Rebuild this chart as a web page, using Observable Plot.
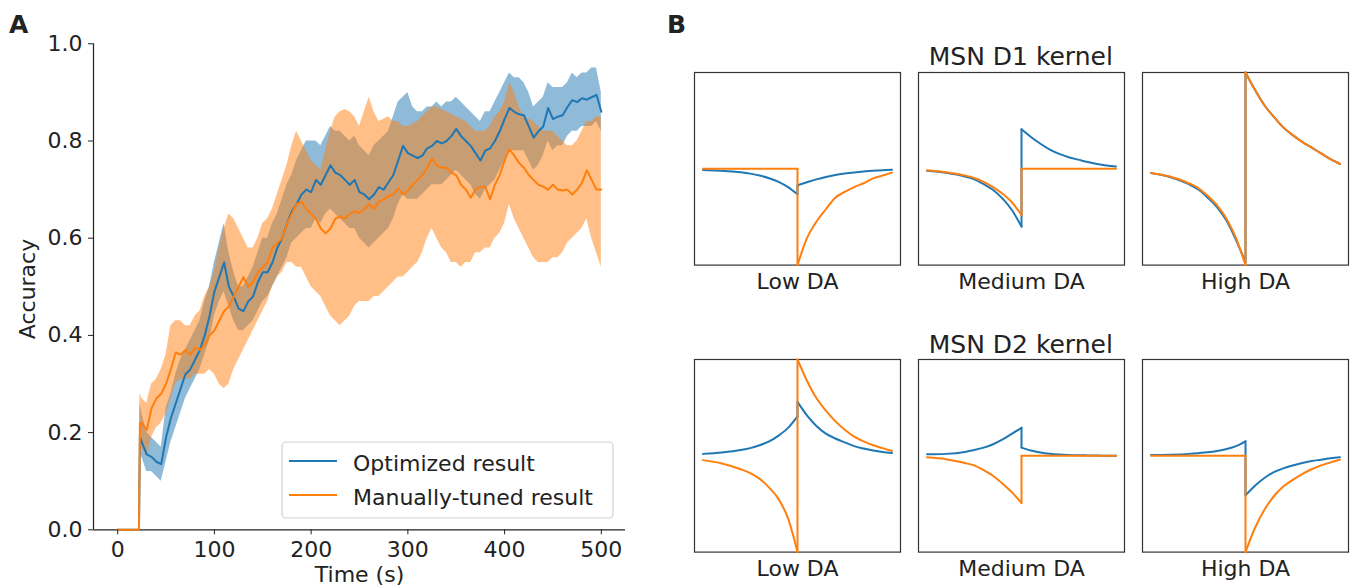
<!DOCTYPE html>
<html><head><meta charset="utf-8">
<script src="https://cdn.jsdelivr.net/npm/d3@7"></script>
<script src="https://cdn.jsdelivr.net/npm/@observablehq/plot@0.6"></script>
<style>
body{margin:0;background:#fff;}
#root{position:relative;width:1351px;height:588px;overflow:hidden;background:#fff;}
</style></head><body><div id="root"></div>
<script>
// ---------- Panel A data ----------
const xTicks = [0, 100, 200, 300, 400, 500];
const yTicks = [0, 0.2, 0.4, 0.6, 0.8, 1.0];
const times = [0,22,23,
25,30,35,40,45,50,55,60,65,70,
75,80,85,90,95,100,105,110,115,120,
125,130,135,140,145,150,155,160,165,170,
175,180,185,190,195,200,205,210,215,220,
225,230,235,240,245,250,255,260,265,270,
275,280,285,290,295,300,305,310,315,320,
325,330,335,340,345,350,355,360,365,370,
375,380,385,390,395,400,405,410,415,420,
425,430,435,440,445,450,455,460,465,470,
475,480,485,490,495,500];
const optMean = [0,0,0.19,
0.18,0.155,0.15,0.14,0.135,0.19,0.23,0.26,0.29,0.32,
0.33,0.35,0.37,0.40,0.44,0.49,0.52,0.55,0.50,0.48,
0.455,0.45,0.47,0.48,0.51,0.53,0.53,0.55,0.58,0.60,
0.63,0.655,0.67,0.69,0.70,0.695,0.72,0.71,0.73,0.75,
0.735,0.73,0.72,0.71,0.72,0.695,0.69,0.68,0.69,0.705,
0.70,0.715,0.73,0.76,0.79,0.775,0.77,0.765,0.77,0.785,
0.79,0.80,0.795,0.80,0.81,0.825,0.81,0.80,0.79,0.775,
0.76,0.78,0.785,0.80,0.82,0.845,0.868,0.86,0.855,0.853,
0.83,0.807,0.82,0.83,0.868,0.845,0.85,0.853,0.87,0.884,
0.88,0.888,0.885,0.89,0.895,0.86];
const optLo = [0,0,0.15,
0.15,0.12,0.12,0.11,0.10,0.14,0.18,0.21,0.24,0.27,
0.29,0.31,0.33,0.36,0.39,0.44,0.47,0.49,0.46,0.43,
0.41,0.41,0.42,0.43,0.45,0.47,0.48,0.50,0.52,0.54,
0.56,0.59,0.60,0.61,0.62,0.62,0.64,0.63,0.65,0.66,
0.65,0.64,0.63,0.62,0.62,0.60,0.59,0.58,0.59,0.60,
0.61,0.62,0.64,0.67,0.69,0.68,0.68,0.68,0.69,0.70,
0.71,0.71,0.71,0.72,0.73,0.74,0.73,0.72,0.71,0.69,
0.68,0.70,0.71,0.72,0.74,0.76,0.78,0.78,0.78,0.78,
0.76,0.74,0.75,0.77,0.80,0.78,0.79,0.79,0.81,0.82,
0.82,0.83,0.83,0.83,0.84,0.82];
const optHi = [0,0,0.26,
0.24,0.20,0.19,0.18,0.17,0.25,0.28,0.32,0.35,0.37,
0.39,0.41,0.43,0.47,0.50,0.55,0.59,0.63,0.57,0.53,
0.50,0.50,0.52,0.54,0.57,0.60,0.60,0.63,0.65,0.68,
0.71,0.73,0.76,0.78,0.80,0.80,0.80,0.79,0.81,0.83,
0.82,0.82,0.81,0.80,0.81,0.79,0.78,0.77,0.79,0.80,
0.81,0.82,0.85,0.88,0.89,0.90,0.87,0.86,0.86,0.87,
0.87,0.88,0.87,0.88,0.88,0.89,0.88,0.87,0.86,0.85,
0.84,0.86,0.86,0.88,0.90,0.92,0.94,0.93,0.93,0.92,
0.90,0.87,0.88,0.89,0.92,0.91,0.91,0.91,0.92,0.94,
0.93,0.94,0.94,0.95,0.95,0.90];
const manMean = [0,0,0.22,
0.22,0.205,0.25,0.27,0.28,0.30,0.33,0.365,0.36,0.37,
0.36,0.375,0.37,0.38,0.40,0.41,0.43,0.45,0.46,0.48,
0.50,0.52,0.50,0.51,0.53,0.54,0.55,0.58,0.59,0.60,
0.63,0.65,0.67,0.675,0.66,0.65,0.64,0.62,0.61,0.62,
0.64,0.645,0.64,0.65,0.655,0.652,0.66,0.67,0.66,0.675,
0.68,0.687,0.69,0.702,0.69,0.698,0.71,0.72,0.73,0.745,
0.764,0.75,0.745,0.745,0.735,0.73,0.71,0.70,0.683,0.70,
0.705,0.706,0.68,0.71,0.73,0.76,0.783,0.77,0.755,0.745,
0.73,0.72,0.71,0.706,0.70,0.71,0.70,0.698,0.70,0.69,
0.70,0.714,0.74,0.72,0.70,0.70];
const manLo = [0,0,0.16,
0.17,0.15,0.19,0.21,0.22,0.24,0.27,0.30,0.31,0.31,
0.31,0.32,0.32,0.32,0.33,0.32,0.30,0.29,0.30,0.33,
0.35,0.37,0.39,0.41,0.43,0.45,0.47,0.50,0.52,0.53,
0.55,0.55,0.54,0.54,0.52,0.50,0.49,0.48,0.46,0.44,
0.43,0.42,0.43,0.44,0.46,0.47,0.47,0.47,0.48,0.48,
0.49,0.50,0.51,0.52,0.52,0.53,0.54,0.55,0.57,0.60,
0.62,0.60,0.58,0.57,0.55,0.55,0.54,0.55,0.55,0.57,
0.57,0.58,0.58,0.60,0.61,0.63,0.67,0.64,0.62,0.60,
0.58,0.56,0.55,0.55,0.55,0.56,0.56,0.57,0.59,0.60,
0.61,0.62,0.64,0.60,0.57,0.54];
const manHi = [0,0,0.28,
0.27,0.26,0.30,0.31,0.33,0.36,0.42,0.43,0.43,0.42,
0.42,0.44,0.45,0.48,0.50,0.53,0.58,0.62,0.65,0.64,
0.62,0.60,0.58,0.58,0.60,0.63,0.64,0.66,0.69,0.72,
0.75,0.79,0.82,0.80,0.78,0.76,0.75,0.74,0.78,0.82,
0.85,0.86,0.865,0.86,0.85,0.83,0.86,0.89,0.86,0.84,
0.845,0.85,0.84,0.84,0.83,0.83,0.835,0.84,0.85,0.86,
0.87,0.87,0.865,0.86,0.855,0.85,0.845,0.84,0.83,0.82,
0.82,0.82,0.83,0.85,0.86,0.88,0.92,0.90,0.87,0.85,
0.845,0.84,0.83,0.82,0.82,0.82,0.81,0.80,0.79,0.79,
0.80,0.82,0.84,0.84,0.85,0.85];

// ---------- Panel B data ----------
const daLevels = ["Low DA", "Medium DA", "High DA"];
const tL = [-1, -0.8, -0.6, -0.5, -0.4, -0.3, -0.2, -0.1, 0];
const tR = [0, 0.1, 0.2, 0.3, 0.4, 0.5, 0.6, 0.7, 0.8, 0.9, 1];
// MSN D1
const d1LowBlueL = [-0.012,-0.02,-0.036,-0.05,-0.07,-0.098,-0.135,-0.19,-0.265];
const d1LowBlueR = [-0.17,-0.14,-0.11,-0.085,-0.065,-0.05,-0.038,-0.028,-0.02,-0.014,-0.01];
const d1LowOrangeL = [0,0,0,0,0,0,0,0,0];
const d1LowOrangeR = [-1,-0.72,-0.55,-0.42,-0.3,-0.24,-0.19,-0.15,-0.1,-0.07,-0.04];
const d1MedBlueL = [-0.02,-0.042,-0.08,-0.11,-0.16,-0.22,-0.31,-0.43,-0.6];
const d1MedBlueR = [0.41,0.33,0.26,0.2,0.155,0.12,0.095,0.07,0.05,0.035,0.024];
const d1MedOrangeL = [-0.015,-0.035,-0.07,-0.095,-0.135,-0.19,-0.26,-0.35,-0.48];
const d1MedOrangeR = [0,0,0,0,0,0,0,0,0,0,0];
const d1HighBlueL = [-0.045,-0.085,-0.16,-0.215,-0.3,-0.4,-0.54,-0.74,-0.97];
const d1HighBlueR = [1,0.82,0.66,0.54,0.43,0.35,0.28,0.22,0.16,0.1,0.05];
const d1HighOrangeL = [-0.043,-0.08,-0.15,-0.2,-0.28,-0.38,-0.52,-0.72,-1];
const d1HighOrangeR = [1,0.82,0.66,0.54,0.43,0.35,0.28,0.22,0.16,0.1,0.05];
// MSN D2
const d2LowBlueL = [0.02,0.035,0.06,0.08,0.11,0.15,0.21,0.29,0.41];
const d2LowBlueR = [0.56,0.42,0.31,0.23,0.18,0.14,0.1,0.075,0.055,0.04,0.03];
const d2LowOrangeL = [-0.045,-0.08,-0.14,-0.18,-0.24,-0.33,-0.45,-0.65,-1];
const d2LowOrangeR = [1,0.78,0.6,0.47,0.36,0.27,0.2,0.15,0.11,0.08,0.05];
const d2MedBlueL = [0.015,0.02,0.04,0.06,0.085,0.12,0.17,0.23,0.29];
const d2MedBlueR = [0.085,0.055,0.035,0.022,0.014,0.009,0.006,0.004,0.002,0.001,0];
const d2MedOrangeL = [-0.016,-0.035,-0.075,-0.1,-0.15,-0.21,-0.29,-0.38,-0.49];
const d2MedOrangeR = [0,0,0,0,0,0,0,0,0,0,0];
const d2HighBlueL = [0.008,0.012,0.02,0.027,0.036,0.05,0.07,0.1,0.15];
const d2HighBlueR = [-0.41,-0.31,-0.23,-0.17,-0.13,-0.1,-0.075,-0.055,-0.04,-0.025,-0.015];
const d2HighOrangeL = [0,0,0,0,0,0,0,0,0];
const d2HighOrangeR = [-1,-0.75,-0.56,-0.42,-0.32,-0.25,-0.19,-0.14,-0.1,-0.068,-0.04];

const seriesNames = ["Optimized result", "Manually-tuned result"];
const BLUE = "#1f77b4", ORANGE = "#ff7f0e";
const FONT = "DejaVu Sans";
const INK = "#222";

// ---------- build ----------
const root = document.getElementById("root");
function place(el, left, top) {
  el.style.position = "absolute";
  el.style.left = left + "px";
  el.style.top = top + "px";
  root.appendChild(el);
}

const tableA = times.map((t, i) => ({t, opt: optMean[i], optLo: optLo[i], optHi: optHi[i],
  man: manMean[i], manLo: manLo[i], manHi: manHi[i]}));

const plotA = Plot.plot({
  width: 660, height: 588,
  marginLeft: 93, marginRight: 35, marginTop: 43.3, marginBottom: 58.7,
  x: {domain: [-25, 525]},
  y: {domain: [0, 1]},
  style: {fontFamily: FONT, fontSize: "22px", color: INK, background: "transparent", overflow: "visible"},
  marks: [
    Plot.areaY(tableA, {x: "t", y1: "optLo", y2: "optHi", fill: BLUE, fillOpacity: 0.5}),
    Plot.areaY(tableA, {x: "t", y1: "manLo", y2: "manHi", fill: ORANGE, fillOpacity: 0.5}),
    Plot.ruleX([-25], {stroke: INK, strokeWidth: 1.2}),
    Plot.ruleY([0], {stroke: INK, strokeWidth: 1.2}),
    Plot.lineY(tableA, {x: "t", y: "opt", stroke: BLUE, strokeWidth: 2}),
    Plot.lineY(tableA, {x: "t", y: "man", stroke: ORANGE, strokeWidth: 2}),
    Plot.axisX({ticks: xTicks, tickSize: 5, tickPadding: 7, label: null, tickFormat: d3.format("d")}),
    Plot.axisY({ticks: yTicks, tickSize: 5, tickPadding: 6, label: null, tickFormat: d3.format(".1f")})
  ]
});
place(plotA, 0, 0);

function buildRow(curves) {
  const rows = [];
  for (const [da, s, L, R] of curves) {
    L.forEach((v, i) => rows.push({da, s, seg: da + s + "L", t: tL[i], v}));
    rows.push({da, s, seg: da + s + "J", t: 0, v: L[L.length - 1]});
    rows.push({da, s, seg: da + s + "J", t: 0, v: R[0]});
    R.forEach((v, i) => rows.push({da, s, seg: da + s + "R", t: tR[i], v}));
  }
  return rows;
}
const rowD1 = buildRow([
  ["Low DA", "opt", d1LowBlueL, d1LowBlueR], ["Low DA", "man", d1LowOrangeL, d1LowOrangeR],
  ["Medium DA", "opt", d1MedBlueL, d1MedBlueR], ["Medium DA", "man", d1MedOrangeL, d1MedOrangeR],
  ["High DA", "opt", d1HighBlueL, d1HighBlueR], ["High DA", "man", d1HighOrangeL, d1HighOrangeR]
]);
const rowD2 = buildRow([
  ["Low DA", "opt", d2LowBlueL, d2LowBlueR], ["Low DA", "man", d2LowOrangeL, d2LowOrangeR],
  ["Medium DA", "opt", d2MedBlueL, d2MedBlueR], ["Medium DA", "man", d2MedOrangeL, d2MedOrangeR],
  ["High DA", "opt", d2HighBlueL, d2HighBlueR], ["High DA", "man", d2HighOrangeL, d2HighOrangeR]
]);

function kernelRow(rows) {
  return Plot.plot({
    width: 659, height: 235,
    marginLeft: 2, marginRight: 2, marginTop: 2, marginBottom: 40.4,
    fx: {domain: daLevels, paddingInner: 0.0824, paddingOuter: 0, label: null},
    x: {domain: [-1.09, 1.09], axis: null},
    y: {domain: [-1, 1], axis: null},
    style: {fontFamily: FONT, fontSize: "22px", color: INK, background: "transparent", overflow: "visible"},
    marks: [
      Plot.frame({stroke: "#333", strokeWidth: 1.2}),
      Plot.line(rows.filter(d => d.s === "opt"), {fx: "da", x: "t", y: "v", z: "seg", stroke: BLUE,
        strokeWidth: 2, curve: "monotone-x", strokeLinecap: "round", strokeLinejoin: "round"}),
      Plot.line(rows.filter(d => d.s === "man"), {fx: "da", x: "t", y: "v", z: "seg", stroke: ORANGE,
        strokeWidth: 2, curve: "monotone-x", strokeLinecap: "round", strokeLinejoin: "round"}),
      Plot.axisFx({anchor: "bottom", tickSize: 0, tickPadding: 8, label: null})
    ]
  });
}
place(kernelRow(rowD1), 691.3, 69.7);
place(kernelRow(rowD2), 691.3, 357.3);

// ---------- text overlay ----------
const ns = "http://www.w3.org/2000/svg";
const ov = document.createElementNS(ns, "svg");
ov.setAttribute("width", 1351); ov.setAttribute("height", 588);
ov.style.pointerEvents = "none";
ov.setAttribute("font-family", FONT);
ov.setAttribute("fill", INK);
ov.innerHTML = `
  <text x="9" y="33" font-size="25" font-weight="bold">A</text>
  <text x="667" y="33" font-size="25" font-weight="bold">B</text>
  <text transform="translate(35,289) rotate(-90)" text-anchor="middle" font-size="22">Accuracy</text>
  <text x="359.5" y="582" text-anchor="middle" font-size="22">Time (s)</text>
  <text x="1020.8" y="65" text-anchor="middle" font-size="25">MSN D1 kernel</text>
  <text x="1020.8" y="352.5" text-anchor="middle" font-size="25">MSN D2 kernel</text>
  <rect x="282" y="442" width="331" height="76" rx="4" ry="4" fill="#fff" fill-opacity="0.8" stroke="#d0d0d0" stroke-width="1.2"/>
  <line x1="289" y1="461" x2="337" y2="461" stroke="${BLUE}" stroke-width="2"/>
  <line x1="289" y1="495" x2="337" y2="495" stroke="${ORANGE}" stroke-width="2"/>
  <text x="353" y="470.5" font-size="22">${seriesNames[0]}</text>
  <text x="353" y="505" font-size="22">${seriesNames[1]}</text>
`;
place(ov, 0, 0);
</script>
</body></html>
